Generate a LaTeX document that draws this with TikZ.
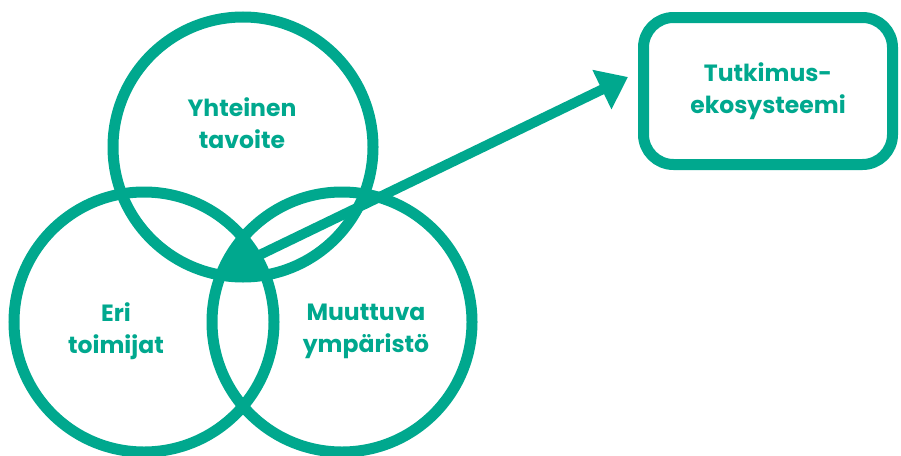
\documentclass[tikz,border=0pt]{standalone}
\usepackage{fontspec}
\setmainfont{Poppins}
\usetikzlibrary{arrows.meta,positioning}
\definecolor{vtteal}{RGB}{0,168,142}

\begin{document}
\begin{tikzpicture}[x=1pt,y=-1pt,>={Triangle[length=29pt,width=42pt]},
	every node/.style={font=\bfseries\fontsize{23.5}{32}\selectfont,text=vtteal,align=center},
	ring/.style={circle,draw=vtteal,line width=11pt,minimum size=260pt,inner sep=0pt}]
		\useasboundingbox (0,0) rectangle (901,455);
		\node[ring] (cY) at (243,147) {};
		\node[ring] (cE) at (144,322) {};
		\node[ring] (cM) at (342,322) {};

		% middle part where all three meet
		\begin{scope}
			\clip (cY.center) circle (130pt);
			\clip (cE.center) circle (130pt);
			\fill[vtteal] (cM.center) circle (130pt);
		\end{scope}

		\node (tY) at (242,123) {Yhteinen\\tavoite};
		\node (tE) at (116,331) {Eri\\toimijat};
		\node (tM) at (366,331) {Muuttuva\\ympäristö};

		\node[draw=vtteal,line width=11pt,rounded corners=30pt,minimum width=249pt,minimum height=147pt,text depth=6pt] (eko) at (768,91) {Tutkimus-\\ekosysteemi};

		\coordinate (mid) at (245,262);
		\coordinate (tip) at (628,77);
		\draw[->,vtteal,line width=10pt] (mid) -- (tip);
	\end{tikzpicture}
\end{document}
